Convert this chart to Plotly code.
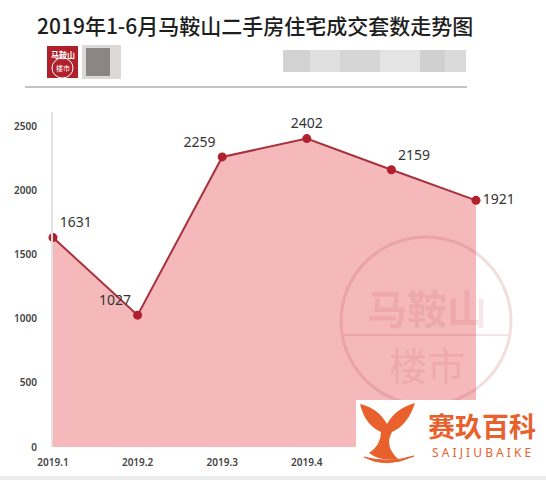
import plotly.graph_objects as go

months = ["2019.1", "2019.2", "2019.3", "2019.4", "2019.5", "2019.6"]
deals = [1631, 1027, 2259, 2402, 2159, 1921]
label_pos = ["top right", "top left", "top left", "top center", "top right", "middle right"]
y_ticks = [0, 500, 1000, 1500, 2000, 2500]

W, H = 546, 480
L, R, T, B = 53, 16, 112, 33
PW, PH = W - L - R, H - T - B


def px(x):
    return (x - L) / PW


def py(y):
    return (H - B - y) / PH


xs = list(range(len(months)))

fig = go.Figure()
fig.add_trace(go.Scatter(
    x=xs, y=deals, mode="lines+markers+text",
    fill="tozeroy", fillcolor="#F5B8BB",
    line=dict(color="#A8323C", width=2),
    marker=dict(color="#B0202E", size=9),
    text=[str(v) for v in deals], textposition=label_pos,
    textfont=dict(family="Noto Sans", size=14, color="#333333"),
    cliponaxis=False, showlegend=False, hoverinfo="skip",
))

shapes = []
annotations = []


def ann(x, y, text, size, color, family="Noto Sans CJK SC", weight=None):
    f = dict(family=family, size=size, color=color)
    if weight:
        f["weight"] = weight
    annotations.append(dict(xref="paper", yref="paper", x=px(x), y=py(y), text=text, showarrow=False,
                            xanchor="center", yanchor="middle", font=f))


def rect(x0, x1, y0, y1, color):
    shapes.append(dict(type="rect", xref="paper", yref="paper", x0=px(x0), x1=px(x1), y0=py(y1), y1=py(y0),
                       fillcolor=color, line=dict(width=0), layer="above"))


# title
ann(255, 25, "2019年1-6月马鞍山二手房住宅成交套数走势图", 21, "#1e1e1e", weight=500)

# header logo
rect(47, 78, 46, 78, "#B0202A")
shapes.append(dict(type="circle", xref="paper", yref="paper", x0=px(52), x1=px(73), y0=py(78), y1=py(58),
                   fillcolor="rgba(0,0,0,0)", line=dict(color="white", width=1), layer="above"))
ann(62.5, 55, "<b>马鞍山</b>", 8, "white")
ann(62.5, 68, "楼市", 7, "white")
# blurred blocks
rect(82, 121, 45, 79, "#dcd9d9")
rect(86, 110, 48, 76, "#8c8585")
for x0, x1, c in [(283, 310, "#d2d2d2"), (310, 340, "#e0e0e0"), (340, 380, "#d6d6d6"),
                  (380, 420, "#e4e4e4"), (420, 445, "#d0d0d0"), (445, 466, "#dadada")]:
    rect(x0, x1, 50, 72, c)
shapes.append(dict(type="line", xref="paper", yref="paper", x0=px(25), x1=px(467), y0=py(87), y1=py(87),
                   line=dict(color="#8a8a8a", width=1), layer="above"))

# watermark
shapes.append(dict(type="circle", xref="paper", yref="paper", x0=px(341), x1=px(511), y0=py(405), y1=py(237),
                   fillcolor="rgba(0,0,0,0)", line=dict(color="rgba(190,70,80,0.18)", width=3), layer="above"))
shapes.append(dict(type="line", xref="paper", yref="paper", x0=px(344), x1=px(508), y0=py(335), y1=py(335),
                   line=dict(color="rgba(190,70,80,0.15)", width=2), layer="above"))
ann(427, 307, "<b>马鞍山</b>", 40, "rgba(190,70,80,0.13)")
ann(427, 363, "楼市", 38, "rgba(190,70,80,0.12)")

# bottom-right logo box
rect(356, 546, 400, 466, "white")


def path(pts):
    s = "M {:.4f},{:.4f}".format(px(pts[0][0]), py(pts[0][1]))
    i = 1
    while i < len(pts):
        (cx, cy), (ex, ey) = pts[i], pts[i + 1]
        s += " Q {:.4f},{:.4f} {:.4f},{:.4f}".format(px(cx), py(cy), px(ex), py(ey))
        i += 2
    return s + " Z"


tail = [(360, 404), (378, 408), (387, 424), (396, 408), (415, 403), (408, 425), (392, 432),
        (384, 446), (398, 459), (381, 462), (369, 453), (381, 445), (381, 432), (365, 425), (360, 404)]
shapes.append(dict(type="path", xref="paper", yref="paper", path=path(tail),
                   fillcolor="#E8612C", line=dict(width=0), layer="above"))
wave = [(364, 457), (386, 469), (414, 456), (388, 464), (364, 457)]
shapes.append(dict(type="path", xref="paper", yref="paper", path=path(wave),
                   fillcolor="#E8612C", line=dict(color="#E8612C", width=1), layer="above"))
ann(482, 425, "<b>赛玖百科</b>", 27, "#E8612C")
ann(481, 452, "S A I J I U B A I K E", 12, "#E8612C", family="Noto Sans")

# bottom strip
rect(0, 546, 476, 480, "#ececec")

fig.update_layout(
    width=W, height=H, margin=dict(l=L, r=R, t=T, b=B),
    paper_bgcolor="white", plot_bgcolor="white",
    shapes=shapes, annotations=annotations,
    xaxis=dict(range=[0, PW / 84.6], tickvals=xs, ticktext=months, showgrid=False, zeroline=False,
               showline=False, ticks="", ticklabelstandoff=8,
               tickfont=dict(family="Noto Sans", size=10, color="#444444", weight=600),
               fixedrange=True),
    yaxis=dict(range=[0, 2609], tickvals=y_ticks, showgrid=False, zeroline=False,
               showline=True, linecolor="#e2e2e2", linewidth=2, ticks="",
               ticklabelstandoff=12, tickfont=dict(family="Noto Sans", size=10, color="#444444", weight=600),
               fixedrange=True),
)

fig.write_html("out.html")
